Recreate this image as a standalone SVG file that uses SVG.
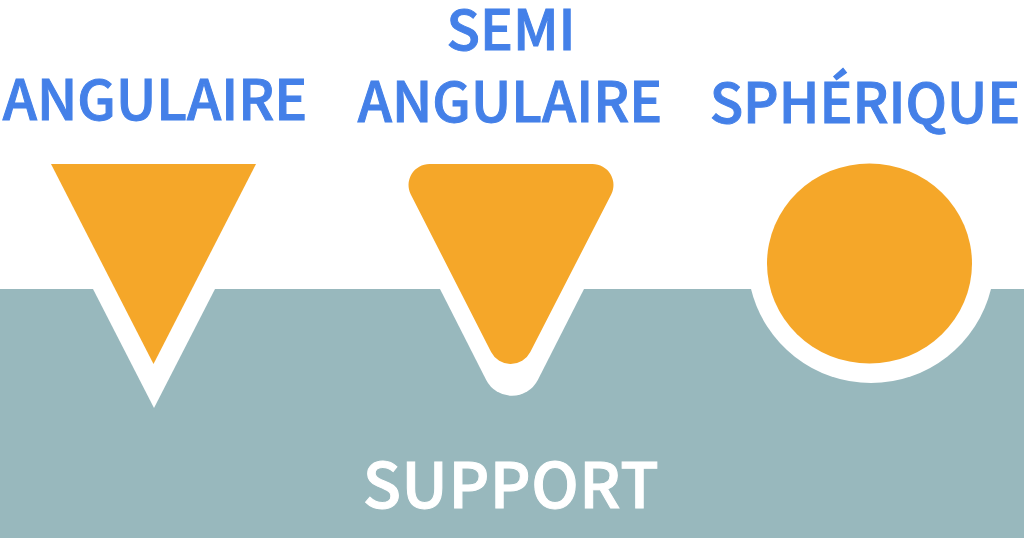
<svg xmlns="http://www.w3.org/2000/svg" width="1024" height="538" viewBox="0 0 1024 538">
<style>
text{font-family:"Noto Sans CJK SC","Noto Sans",sans-serif;font-weight:500;font-size:55px;fill:#4480e8;stroke:#4480e8;stroke-width:1px;text-anchor:middle}
.o{fill:#f5a729}
.w{fill:#fff}
.s{fill:#fff;stroke:#fff;font-size:63px;letter-spacing:.6px}
</style>
<rect width="1024" height="538" fill="#fff"/>
<g id="support">
<rect x="0" y="289" width="1024" height="249" fill="#98b8bd"/>
<text class="s" x="511" y="508">SUPPORT</text>
</g>
<g id="angulaire">
<path class="w" d="M93 289L154 408L215 289Z"/>
<path class="o" d="M51 164H256L153.500 364Z"/>
<text x="155" y="120">ANGULAIRE</text>
</g>
<g id="semi-angulaire">
<path class="w" d="M440 289L486.200 380A29 29 0 0 0 537.800 380L584 289Z"/>
<path class="o" d="M429.500 164H592.500A21 21 0 0 1 611.200 194.500L530.300 352A22 22 0 0 1 491.100 352L410.800 194.500A21 21 0 0 1 429.500 164Z"/>
<text x="511" y="50">SEMI</text>
<text x="510" y="122">ANGULAIRE</text>
</g>
<g id="spherique">
<path class="w" d="M751 289A123.600 123.600 0 0 0 991 289Z"/>
<ellipse class="o" cx="869.500" cy="263.500" rx="102.500" ry="100"/>
<text x="865" y="123">SPHÉRIQUE</text>
</g>
</svg>
